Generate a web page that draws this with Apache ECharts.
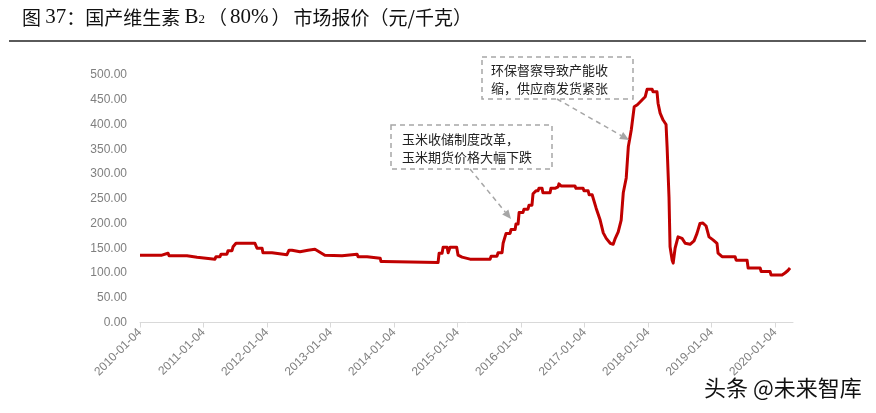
<!DOCTYPE html>
<html><head><meta charset="utf-8">
<script src="https://cdn.jsdelivr.net/npm/echarts@6/dist/echarts.min.js"></script>
<style>html,body{margin:0;padding:0;background:#fff}#c{width:876px;height:413px}</style>
</head><body><div id="c"></div>
<script>
// ---- data ----
const dates = [
'2010-01-04','2010-05-10','2010-05-16','2010-06-14','2010-06-20','2010-10-01','2010-10-07','2010-11-28','2010-12-04',
'2011-03-11','2011-03-17','2011-04-09','2011-04-15','2011-05-19','2011-05-25','2011-06-17','2011-06-23','2011-07-04','2011-07-10','2011-10-27','2011-11-08','2011-12-07','2011-12-12',
'2012-02-02','2012-02-07','2012-04-28','2012-05-10','2012-05-27','2012-06-02','2012-07-12','2012-07-23','2012-08-27','2012-09-07','2012-10-06','2012-12-02',
'2013-03-11','2013-03-17','2013-06-05','2013-06-11','2013-08-02','2013-08-08','2013-10-16','2013-10-21','2013-11-02','2013-11-08',
'2014-09-14','2014-09-20','2014-10-07','2014-10-13','2014-11-05','2014-11-11','2014-11-16','2014-11-22','2014-12-30',
'2015-01-07','2015-01-30','2015-03-17','2015-07-10','2015-07-16','2015-08-19','2015-08-25','2015-09-17','2015-09-23','2015-10-04','2015-10-10','2015-11-02','2015-11-08','2015-12-01','2015-12-06','2015-12-18','2015-12-24',
'2016-01-15','2016-01-21','2016-02-13','2016-02-19','2016-03-07','2016-03-13','2016-03-24','2016-03-30','2016-04-11','2016-04-16','2016-05-04','2016-05-09','2016-06-19','2016-06-24','2016-07-17','2016-07-23','2016-08-04','2016-08-09','2016-08-15','2016-08-21','2016-11-09','2016-11-15','2016-12-26','2016-12-31',
'2017-01-24','2017-01-30','2017-02-16','2017-03-11','2017-04-03','2017-04-21','2017-05-08','2017-05-31','2017-06-17','2017-06-29','2017-07-16','2017-08-02','2017-08-14','2017-08-31','2017-09-12','2017-09-29','2017-10-16','2017-11-03','2017-11-20','2017-12-01','2017-12-18','2017-12-29',
'2018-01-27','2018-02-01','2018-02-24','2018-03-02','2018-03-14','2018-03-31','2018-04-17','2018-04-23','2018-05-04','2018-05-10','2018-05-22','2018-05-28','2018-06-08','2018-06-25','2018-07-18','2018-08-05','2018-09-02','2018-09-25','2018-10-12','2018-10-29','2018-11-15','2018-12-03','2018-12-20',
'2019-01-12','2019-02-04','2019-02-10','2019-03-05','2019-05-19','2019-05-25','2019-07-27','2019-08-02','2019-10-10','2019-10-16','2019-12-06','2019-12-12',
'2020-02-13','2020-03-01','2020-03-18','2020-03-30'
];
const prices = [
136,136,140,140,135,135,132,132,128,
128,133,133,138,138,145,145,153,153,160,160,150,150,141,
141,137,137,146,146,142,143,146,146,148,148,136,
135,138,138,133,133,130,130,123,123,120,
121,140,140,152,152,141,141,152,152,
136,132,128,128,134,134,141,141,160,160,180,180,188,188,199,199,222,
222,229,229,237,237,260,260,266,266,271,271,262,262,271,271,274,274,280,280,276,276,271,271,266,
266,258,258,231,207,181,170,160,158,170,183,207,262,292,355,389,436,440,446,450,456,471,
471,466,466,443,423,409,400,355,253,153,126,120,150,173,170,160,158,165,180,200,201,195,173,
167,160,140,133,133,126,126,110,110,103,103,96,
96,100,105,110
];
const xTickLabels = ['2010-01-04','2011-01-04','2012-01-04','2013-01-04','2014-01-04','2015-01-04','2016-01-04','2017-01-04','2018-01-04','2019-01-04','2020-01-04'];
const xStart = '2010-01-04';
const xEnd = '2020-04-16';
const yMin = 0, yMax = 500, yStep = 50;
const noteA = ['玉米收储制度改革，', '玉米期货价格大幅下跌'];
const noteB = ['环保督察导致产能收', '缩，供应商发货紧张'];
const watermark = '头条 @未来智库';

// ---- build ----
const parse = s => { const p = s.split('-').map(Number); return new Date(p[0], p[1]-1, p[2]).getTime(); };
const seriesData = dates.map((d, i) => [parse(d), prices[i]]);
const tickVals = xTickLabels.map(parse);

const chart = echarts.init(document.getElementById('c'));

const CJK = '"Noto Sans CJK SC", sans-serif';
const SERIF = '"Liberation Serif", "DejaVu Serif", serif';

function dashedBox(x, y, w, h) {
  return { type: 'rect', shape: { x: x, y: y, width: w, height: h },
    style: { fill: 'rgba(255,255,255,0)', stroke: '#a6a6a6', lineWidth: 1.5, lineDash: [5, 4] }, z: 10 };
}
function arrow(x1, y1, x2, y2) {
  const a = Math.atan2(y2 - y1, x2 - x1), L = 9, W = 4;
  const bx = x2 - L * Math.cos(a), by = y2 - L * Math.sin(a);
  const px = -Math.sin(a) * W, py = Math.cos(a) * W;
  return [
    { type: 'line', shape: { x1: x1, y1: y1, x2: bx, y2: by },
      style: { stroke: '#a6a6a6', lineWidth: 1.5, lineDash: [5, 4] }, z: 10 },
    { type: 'polygon', shape: { points: [[x2, y2], [bx + px, by + py], [bx - px, by - py]] },
      style: { fill: '#a6a6a6' }, z: 10 }
  ];
}
function noteText(lines, x, y) {
  return { type: 'text', left: x, top: y, z: 11,
    style: { text: lines.join('\n'), font: '13px ' + CJK, fill: '#222', lineHeight: 18 } };
}

const graphics = [
  { type: 'text', left: 22, top: 7, z: 20,
    style: {
      text: '{c|图 }{n|37}{c|：国产维生素 }{n|B}{s|2}{p|（}{n|80%}{p|）}{c|市场报价（元/千克）}',
      rich: {
        c: { fontFamily: CJK, fontSize: 19, fill: '#111', verticalAlign: 'bottom', height: 26 },
        p: { fontFamily: CJK, fontSize: 19, fill: '#111', verticalAlign: 'bottom', height: 26, padding: [0, 3, 0, 3] },
        n: { fontFamily: SERIF, fontSize: 21, fill: '#111', verticalAlign: 'bottom', height: 26 },
        s: { fontFamily: SERIF, fontSize: 13, fill: '#111', verticalAlign: 'bottom', height: 22 }
      }
    } },
  { type: 'line', shape: { x1: 9, y1: 41, x2: 866, y2: 41 }, style: { stroke: '#5a5a5a', lineWidth: 2 }, z: 20 },
  dashedBox(391, 125, 161, 44),
  noteText(noteA, 402, 130),
  ...arrow(470, 169, 511, 219),
  dashedBox(482, 57, 151, 42),
  noteText(noteB, 491, 61),
  ...arrow(557, 99, 629, 140),
  { type: 'text', left: 703, top: 376, z: 30,
    style: { text: watermark, font: '22px ' + CJK, fill: '#111', stroke: '#fff', lineWidth: 2 } }
];

chart.setOption({
  animation: false,
  backgroundColor: '#fff',
  grid: { left: 140, right: 83, top: 75, bottom: 90.5, containLabel: false },
  xAxis: {
    type: 'value', min: parse(xStart), max: parse(xEnd),
    splitLine: { show: false },
    axisLine: { show: true, lineStyle: { color: '#d9d9d9', width: 1 } },
    axisTick: { show: true, customValues: tickVals, length: 5, lineStyle: { color: '#d9d9d9' } },
    axisLabel: {
      customValues: tickVals, rotate: 45, margin: 8, color: '#808080', fontSize: 12,
      fontFamily: '"Liberation Sans", Arial, sans-serif',
      formatter: function (v) {
        let best = 0, bd = Infinity;
        tickVals.forEach((t, i) => { const d = Math.abs(t - v); if (d < bd) { bd = d; best = i; } });
        return xTickLabels[best];
      }
    }
  },
  yAxis: {
    type: 'value', min: yMin, max: yMax, interval: yStep,
    splitLine: { show: false },
    axisLine: { show: false }, axisTick: { show: false },
    axisLabel: { margin: 13, color: '#7f7f7f', fontSize: 12, fontFamily: '"Liberation Sans", Arial, sans-serif',
      formatter: v => v.toFixed(2) }
  },
  series: [{
    type: 'line', data: seriesData, showSymbol: false, symbol: 'none',
    lineStyle: { color: '#C00000', width: 3, join: 'round' }
  }],
  graphic: graphics
});
</script></body></html>
